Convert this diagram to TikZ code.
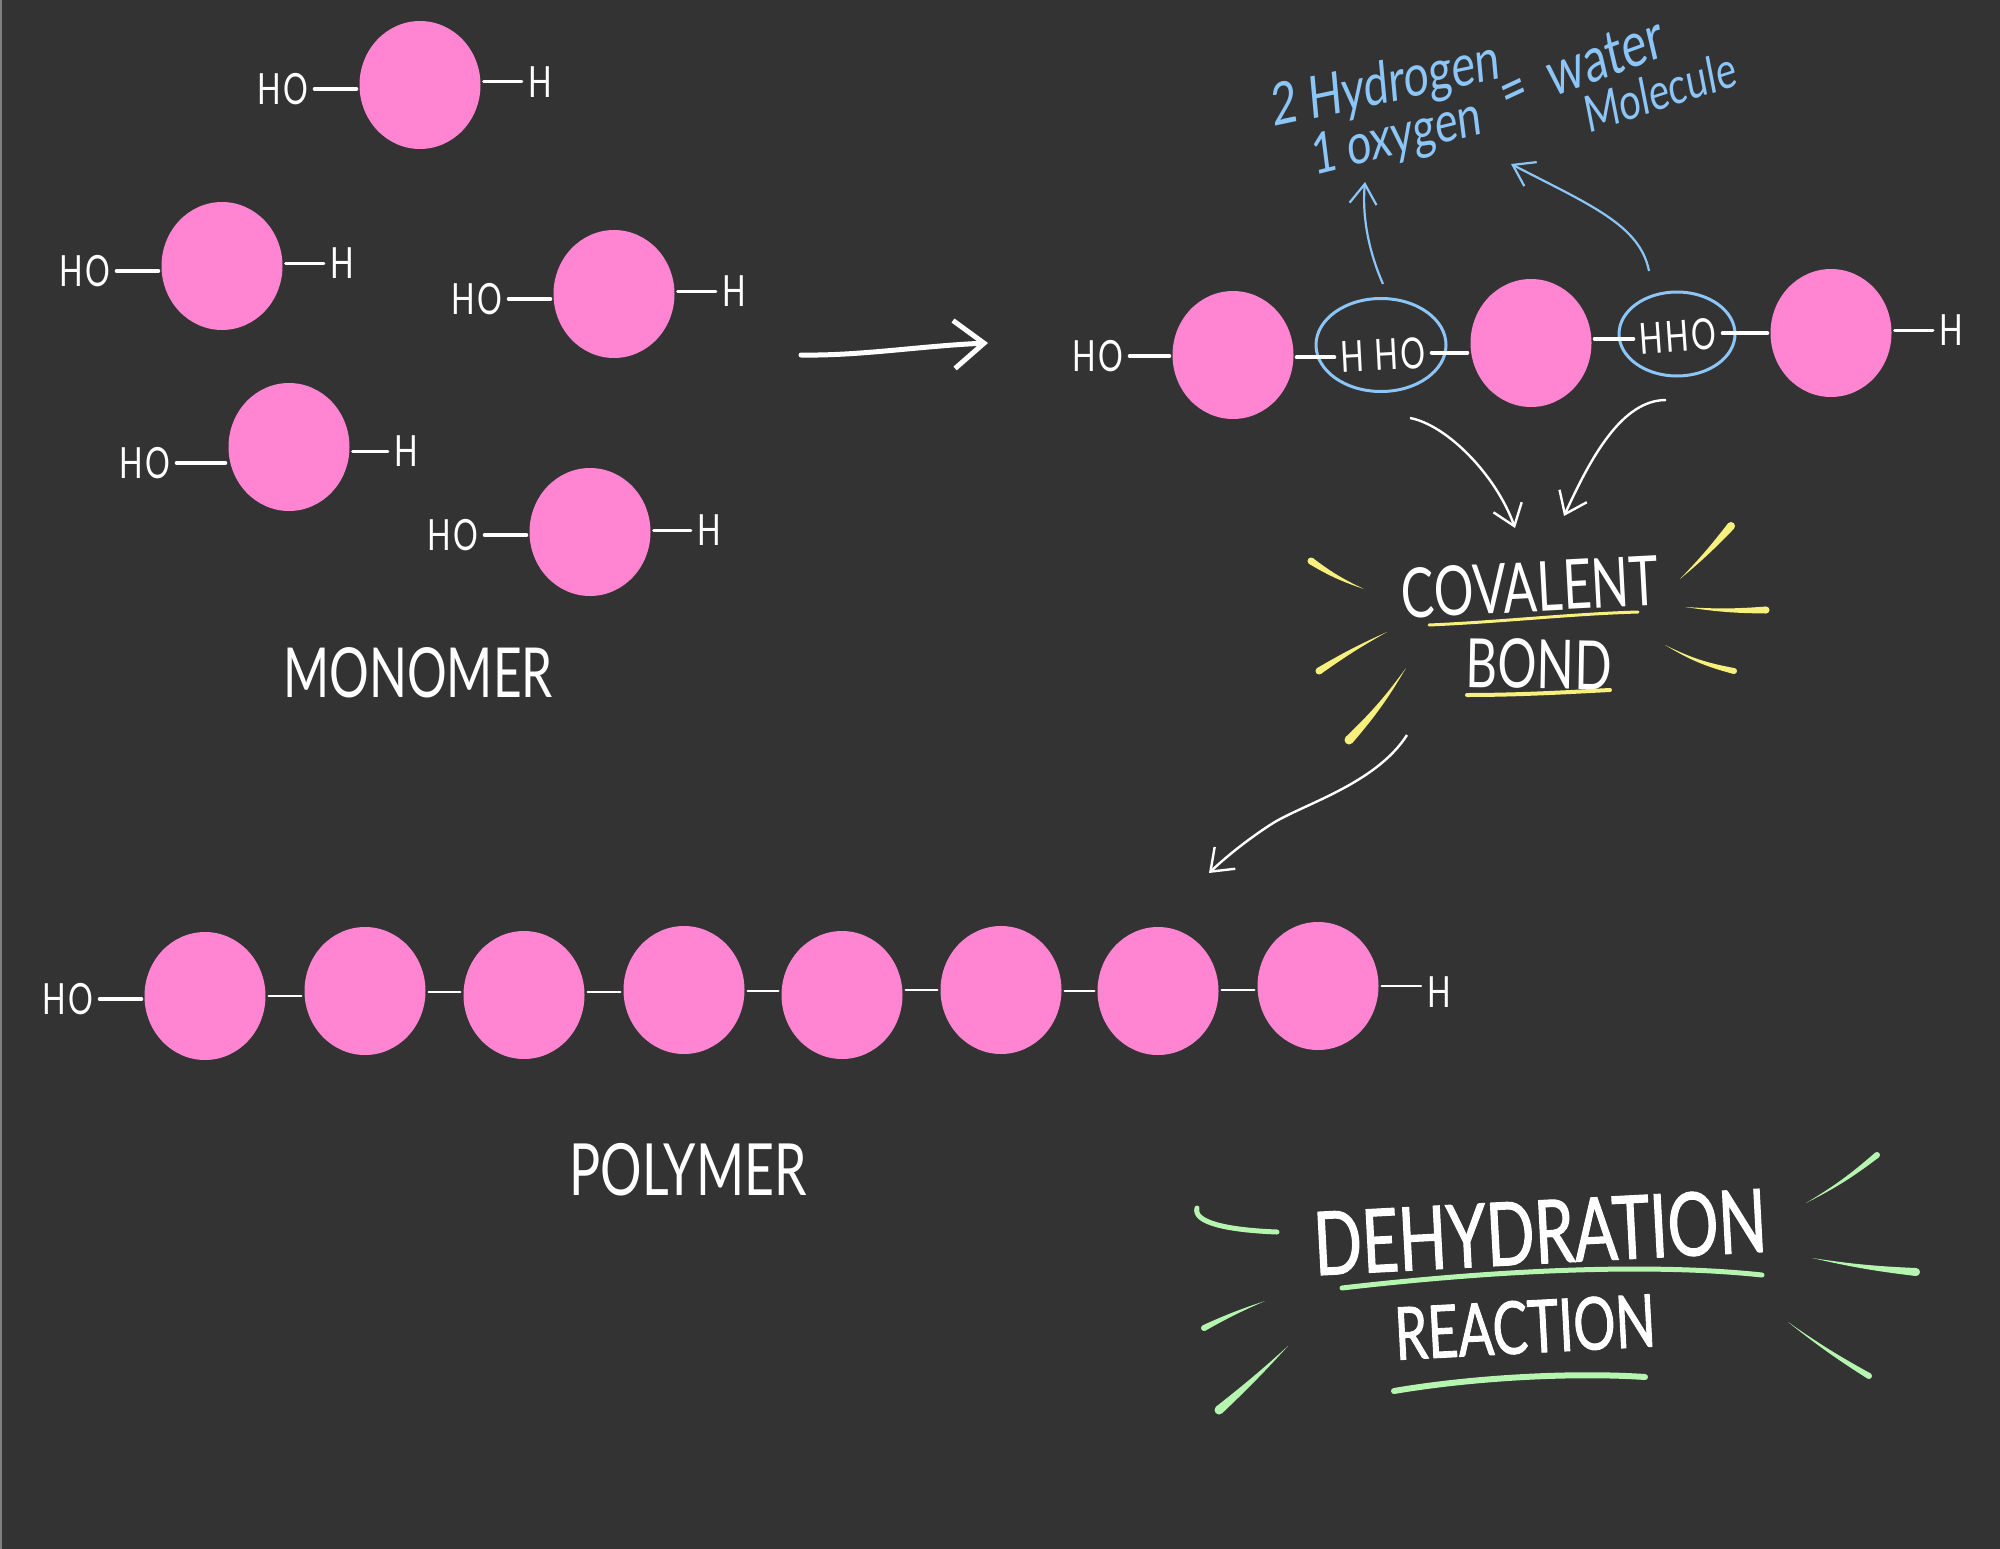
\documentclass[tikz,border=0pt]{standalone}
\usepackage{fontspec}
\usetikzlibrary{shapes.geometric,arrows.meta,calc}
\setmainfont{Lato}
\newfontfamily\hand[FakeStretch=0.72]{Lato}
\newfontfamily\handsp[FakeStretch=0.72,LetterSpace=6]{Lato}
\newfontfamily\handb[FakeStretch=0.72,FakeBold=1.2]{Lato}
\newfontfamily\blueh[FakeStretch=0.78,FakeSlant=0.12]{Lato}
\definecolor{bg}{HTML}{333333}
\definecolor{pinkb}{HTML}{FF85D2}
\definecolor{blueh}{HTML}{8CC5F7}
\definecolor{yel}{HTML}{F8F07C}
\definecolor{grn}{HTML}{B6F5B0}
\newcommand{\fs}[1]{\fontsize{#1}{#1}\selectfont}
\newcommand{\taper}[5]{%
  \coordinate (ta) at (#2); \coordinate (tb) at (#3);
  \fill[#1] (ta) to[bend left=#5] ($(tb)!#4!90:(ta)$) -- ($(tb)!#4!-90:(ta)$) to[bend right=#5] (ta) -- cycle;
  \fill[#1] (tb) circle[radius=#4];}
\tikzset{
  blob/.style={ellipse,fill=pinkb,minimum width=121pt,minimum height=128pt,inner sep=0pt},
  lbl/.style={font=\handsp\fs{43},text=white,inner sep=3pt},
  bond/.style={draw=white,line width=4pt,line cap=round,shorten >=3pt,shorten <=3pt},
  thinbond/.style={bond,line width=2.5pt},
  title/.style={font=\hand\fs{70},text=white,inner sep=0pt},
  bigtitle/.style={font=\handb\fs{88},text=white,inner sep=0pt},
  bluet/.style={text=blueh,inner sep=0pt},
  ring/.style={ellipse,draw=blueh,line width=3pt,inner sep=0pt},
  bluearrow/.style={draw=blueh,line width=2.2pt,-{Straight Barb[length=20pt,width=27pt]}},
  whitearrow/.style={draw=white,line width=2.4pt,-{Straight Barb[length=20pt,width=30pt]}},
}
\begin{document}
\begin{tikzpicture}[x=1pt,y=-1pt]
\useasboundingbox (0,0) rectangle (2000,1549);
\fill[bg] (0,0) rectangle (2000,1549);
\fill[gray] (0,0) rectangle (1.5,1549);
% monomers
\foreach \n/\cx/\cy/\hox/\hoy/\hx/\hy in {
  1/420/85/283/89/540/82,
  2/222/266/85/271/342/263,
  3/614/294/477/299/734/291,
  4/289/447/145/463/406/451,
  5/590/532/453/535/709/530}{
  \node[blob] (m\n) at (\cx,\cy) {};
  \node[lbl] (mo\n) at (\hox,\hoy) {HO};
  \node[lbl] (mh\n) at (\hx,\hy) {H};
  \draw[bond] (mo\n.east) -- (mo\n.east -| m\n.west);
  \draw[thinbond,line width=3pt] (mh\n.west -| m\n.east) -- (mh\n.west);
}
\node[title,font=\hand\fs{69}] (monomer) at (418,673) {MONOMER};
% big arrow
\coordinate (bs) at (801,355);
\coordinate (be) at (988,343);
\draw[white,line width=5pt,line cap=round,line join=round,-{Straight Barb[length=30pt,width=48pt]}] (bs) .. controls (860,356) and (920,346) .. (be);
% reaction chain
\node[blob] (c1) at (1233,355) {};
\node[blob] (c2) at (1531,343) {};
\node[blob] (c3) at (1831,333) {};
\node[lbl] (co) at (1098,356) {HO};
\node[lbl] (ch) at (1951,330) {H};
\node[lbl,rotate=3] (t1) at (1383,355) {H HO};
\node[lbl,rotate=4] (t2) at (1678,336) {HHO};
\node[ring,minimum width=130pt,minimum height=93pt] (w1) at (1381,345) {};
\node[ring,minimum width=116pt,minimum height=84pt] (w2) at (1677,334) {};
\draw[bond] (co.east) -- (co.east -| c1.west);
\draw[bond] (t1.west -| c1.east) -- (t1.west);
\draw[bond] (t1.east) -- (t1.east -| c2.west);
\draw[bond] (t2.west -| c2.east) -- (t2.west);
\draw[bond] (t2.east) -- (t2.east -| c3.west);
\draw[bond,line width=3pt] (ch.west -| c3.east) -- (ch.west);
% blue note
\node[bluet,rotate=12,font=\blueh\fs{58}] (n1) at (1384,87) {2 Hydrogen};
\node[bluet,rotate=14,font=\blueh\fs{56}] (n2) at (1395,140) {1 oxygen};
\node[bluet,rotate=25,font=\blueh\fs{60}] (n3) at (1514,96) {=};
\node[bluet,rotate=20,font=\blueh\fs{62}] (n4) at (1603,57) {water};
\node[bluet,rotate=18,font=\blueh\fs{50}] (n5) at (1658,92) {Molecule};
\coordinate (ba1) at (1383,284);
\coordinate (bb1) at (1365,182);
\coordinate (ba2) at (1649,271);
\coordinate (bb2) at (1511,164);
\draw[bluearrow] (ba1) .. controls (1368,250) and (1362,215) .. (bb1);
\draw[bluearrow] (ba2) .. controls (1640,225) and (1590,205) .. (bb2);
% arrows to bond
\coordinate (wa1) at (1410,418);
\coordinate (we1) at (1515,528);
\coordinate (wa2) at (1666,400);
\coordinate (we2) at (1564,516);
\draw[whitearrow] (wa1) .. controls (1447,425) and (1496,475) .. (we1);
\draw[whitearrow] (wa2) .. controls (1622,400) and (1591,457) .. (we2);
% covalent bond
\node[title,rotate=3,font=\hand\fs{69}] (cov) at (1530,587) {COVALENT};
\node[title,rotate=-1,font=\hand\fs{68}] (bondt) at (1539,664) {BOND};
\draw[yel,line width=3pt,line cap=round] (1429,625) .. controls (1500,622) and (1570,614) .. (1638,612);
\draw[yel,line width=4pt,line cap=round] (1467,695) .. controls (1520,695) and (1570,692) .. (1610,690);
\taper{yel}{1364,589}{1311,561}{3.5pt}{6}
\taper{yel}{1680,579}{1731,526}{4pt}{-3}
\taper{yel}{1685,607}{1766,610}{3.5pt}{-4}
\taper{yel}{1665,645}{1734,671}{3pt}{-8}
\taper{yel}{1387,632}{1319,671}{3.5pt}{-3}
\taper{yel}{1406,668}{1349,740}{4.5pt}{5}
% arrow to polymer
\coordinate (wa3) at (1407,735);
\coordinate (we3) at (1209,873);
\draw[whitearrow] (wa3) .. controls (1375,785) and (1300,805) .. (1270,825) .. controls (1250,838) and (1228,855) .. (we3);
% polymer
\foreach \n/\cx/\cy in {1/205/996,2/365/991,3/524/995,4/684/990,5/842/995,6/1001/990,7/1158/991,8/1318/986}{
  \node[blob] (p\n) at (\cx,\cy) {};
}
\node[lbl] (po) at (68,999) {HO};
\node[lbl] (ph) at (1439,992) {H};
\draw[bond] (po.east) -- (po.east -| p1.west);
\foreach \a/\b/\y in {1/2/996,2/3/992,3/4/992,4/5/991,5/6/990,6/7/991,7/8/990}{
  \coordinate (ly) at (0,\y);
  \draw[thinbond] (p\a.east |- ly) -- (p\b.west |- ly);
}
\draw[thinbond] (p8.east) -- (p8.east -| ph.west);
\node[title,font=\hand\fs{72}] (polymer) at (688,1170) {POLYMER};
% dehydration
\node[bigtitle,rotate=3] (deh) at (1540,1232) {DEHYDRATION};
\node[bigtitle,rotate=3,font=\handb\fs{73}] (rea) at (1525,1327) {REACTION};
\draw[grn,line width=5pt,line cap=round] (1342,1288) .. controls (1480,1272) and (1640,1262) .. (1762,1275);
\draw[grn,line width=6pt,line cap=round] (1394,1391) .. controls (1470,1378) and (1570,1372) .. (1645,1377);
\draw[grn,line width=5pt,line cap=round] (1197,1208) .. controls (1193,1222) and (1225,1230) .. (1277,1232);
\taper{grn}{1806,1203}{1877,1155}{3pt}{-5}
\taper{grn}{1812,1258}{1916,1272}{4pt}{-3}
\taper{grn}{1788,1322}{1869,1376}{3pt}{-3}
\taper{grn}{1265,1301}{1204,1328}{3pt}{-3}
\taper{grn}{1288,1346}{1219,1410}{4.5pt}{2}
\end{tikzpicture}
\end{document}
